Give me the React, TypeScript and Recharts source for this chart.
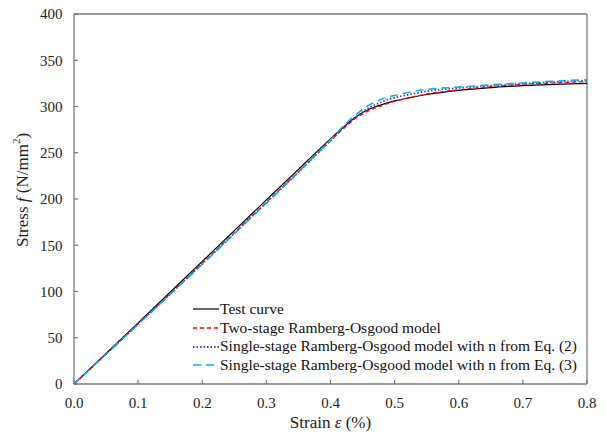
import React from "react";
import { LineChart, Line, XAxis, YAxis, ReferenceLine } from "recharts";

const strain = [0, 0.1, 0.2, 0.3, 0.35, 0.38, 0.4, 0.42, 0.44, 0.46, 0.48, 0.5, 0.52, 0.55, 0.6, 0.65, 0.7, 0.75, 0.8];
const testCurve = [0, 66, 132.5, 199, 232, 252, 265, 277.5, 289, 297, 302, 306, 309, 313, 317.5, 320.5, 322.5, 324, 325];
const twoStage = [0, 65, 130.5, 196.5, 229.5, 249.5, 263, 276, 287.5, 295.5, 301, 305.5, 309, 313.5, 318, 321.5, 324, 325.5, 327];
const singleEq2 = [0, 64.8, 130, 196, 229, 249.5, 263, 277, 289, 298.5, 305, 309.5, 312.5, 316.5, 320, 322.5, 324.5, 326.5, 328];
const singleEq3 = [0, 64.5, 129.5, 195.5, 229, 250, 264, 279, 291.5, 301.5, 308, 312, 315, 318.5, 321, 323.5, 325.5, 327.5, 329];

const xTicks = [0, 0.1, 0.2, 0.3, 0.4, 0.5, 0.6, 0.7, 0.8];
const yTicks = [0, 50, 100, 150, 200, 250, 300, 350, 400];

const seriesNames = [
  "Test curve",
  "Two-stage Ramberg-Osgood model",
  "Single-stage Ramberg-Osgood model with n from Eq. (2)",
  "Single-stage Ramberg-Osgood model with n from Eq. (3)",
];

const data = strain.map((s, i) => ({
  strain: s,
  test: testCurve[i],
  two: twoStage[i],
  eq2: singleEq2[i],
  eq3: singleEq3[i],
}));

const FONT = "Liberation Serif, Times New Roman, serif";
const AXIS = "#7a7a7a";

const styles = [
  { key: "test", color: "#000000", dash: undefined as string | undefined, width: 1.2 },
  { key: "two", color: "#ff0000", dash: "4 3", width: 1.3 },
  { key: "eq2", color: "#7030a0", dash: "1.5 2", width: 1.8 },
  { key: "eq3", color: "#00b0f0", dash: "8 5", width: 1.5 },
];

const LegendBox = () => (
  <div
    style={{
      position: "absolute",
      left: 193,
      top: 300,
      fontFamily: FONT,
      fontSize: 15.5,
      color: "#111",
      lineHeight: "18.7px",
      pointerEvents: "none",
    }}
  >
    {styles.map((s, i) => (
      <div key={s.key} style={{ display: "flex", alignItems: "center", whiteSpace: "nowrap" }}>
        <svg width={26} height={10} style={{ marginRight: 1 }}>
          <line x1={0} y1={5} x2={26} y2={5} stroke={s.color} strokeWidth={s.width} strokeDasharray={s.dash} />
        </svg>
        <span>{seriesNames[i]}</span>
      </div>
    ))}
  </div>
);

export default function App() {
  return (
    <div style={{ position: "absolute", left: 0, top: 0, width: 606, height: 437, background: "#fff", fontFamily: FONT }}>
      <LineChart
        width={606}
        height={437}
        data={data}
        margin={{ top: 14, right: 19, bottom: 0, left: 14 }}
        style={{ fontFamily: FONT }}
      >
        <XAxis
          dataKey="strain"
          type="number"
          domain={[0, 0.8]}
          ticks={xTicks}
          tickFormatter={(v: number) => v.toFixed(1)}
          stroke={AXIS}
          strokeWidth={1.3}
          tickSize={-4}
          tickMargin={17}
          height={53}
          tick={{ fill: "#222", fontFamily: FONT, fontSize: 15 }}
          label={{
            content: (p: any) => {
              const vb = p.viewBox;
              return (
                <text x={vb.x + vb.width / 2} y={vb.y + 44} textAnchor="middle" fontFamily={FONT} fontSize={17} fill="#222">
                  Strain <tspan fontStyle="italic">ε</tspan> (%)
                </text>
              );
            },
          }}
        />
        <YAxis
          type="number"
          domain={[0, 400]}
          ticks={yTicks}
          width={60}
          stroke={AXIS}
          strokeWidth={1.3}
          tickSize={-4}
          tickMargin={15.5}
          tick={{ fill: "#222", fontFamily: FONT, fontSize: 15 }}
          label={{
            content: (p: any) => {
              const vb = p.viewBox;
              const cx = vb.x + 8;
              const cy = vb.y + vb.height / 2 - 9;
              return (
                <text x={cx} y={cy} transform={`rotate(-90 ${cx} ${cy})`} textAnchor="middle" dominantBaseline="central" fontFamily={FONT} fontSize={17} fill="#222">
                  Stress <tspan fontStyle="italic">f</tspan> (N/mm<tspan baselineShift="super" fontSize={11}>2</tspan>)
                </text>
              );
            },
          }}
        />
        <ReferenceLine y={400} stroke={AXIS} strokeWidth={1.3} ifOverflow="extendDomain" />
        <ReferenceLine x={0.8} stroke={AXIS} strokeWidth={1.3} ifOverflow="extendDomain" />
        {styles.map((s) => (
          <Line
            key={s.key}
            dataKey={s.key}
            type="monotone"
            stroke={s.color}
            strokeWidth={s.width}
            strokeDasharray={s.dash}
            dot={false}
            activeDot={false}
            isAnimationActive={false}
          />
        ))}
      </LineChart>
      <LegendBox />
    </div>
  );
}
